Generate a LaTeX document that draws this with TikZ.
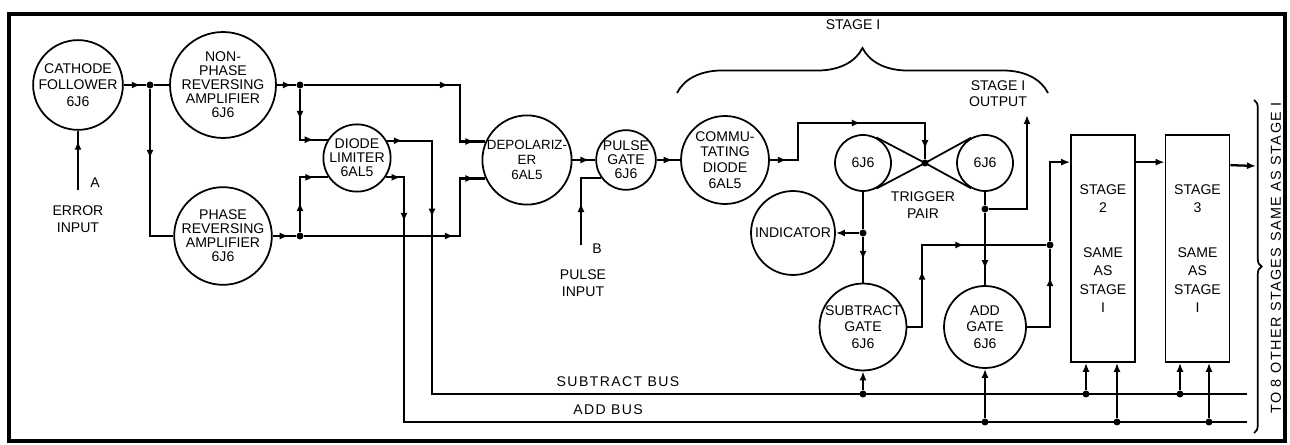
\documentclass[tikz,border=0pt]{standalone}
\usepackage{fontspec}
\setmainfont{Liberation Sans}
\newfontfamily\lettrage[LetterSpace=10]{Liberation Sans}
\usetikzlibrary{arrows.meta, positioning, decorations.pathreplacing, decorations.markings, calc}

\begin{document}
\begin{tikzpicture}[x=0.02cm, y=-0.02cm, font=\fontsize{8}{10}\selectfont,
	tube/.style={circle, draw, line width=1pt, align=center, inner sep=0pt, minimum size=#1, font=\fontsize{8}{8}\selectfont},
	stagebox/.style={draw, line width=1pt, minimum width=1.28cm, minimum height=4.54cm, align=center, inner sep=0pt, font=\fontsize{8}{10.5}\selectfont},
	wire/.style={line width=1.3pt},
	fleche/.style={postaction={decorate, decoration={markings, mark=at position #1 with {\arrow{Latex[length=1.8mm, width=1.4mm]}}}}},
	bout/.style={-{Latex[length=1.8mm, width=1.4mm]}},
	jonction/.style={circle, fill, inner sep=0pt, minimum size=1.4mm},
	accolade/.style={line width=1pt, decorate, decoration={brace, amplitude=#1}}]
				\useasboundingbox (0,0) rectangle (1290,445);
				\draw[line width=1.8pt] (9,14) rectangle (1285,441);
				% étage d'entrée
				\node[tube=1.68cm, font=\fontsize{8}{9.5}\selectfont] (cathode) at (78,85) {CATHODE\\FOLLOWER\\6J6};
				\node[tube=1.8cm] (nonphase) at (223,85) {NON-\\PHASE\\REVERSING\\AMPLIFIER\\6J6};
				\node[tube=1.72cm] (phase) at (223,236) {PHASE\\REVERSING\\AMPLIFIER\\6J6};
				\node[tube=1.2cm] (limiter) at (357,158) {DIODE\\LIMITER\\6AL5};
				\node[tube=1.68cm, font=\fontsize{7.6}{8.5}\selectfont] (depol) at (527,160) {DEPOLARIZ-\\ER\\6AL5};
				\node[tube=1.16cm] (pulsegate) at (626,160) {PULSE\\GATE\\6J6};
				\node[tube=1.76cm, font=\fontsize{8}{9}\selectfont] (commut) at (725,160) {COMMU-\\TATING\\DIODE\\6AL5};
				% étage 1
				\node[tube=1.12cm] (trigL) at (863,163) {6J6};
				\node[tube=1.12cm] (trigR) at (985,163) {6J6};
				\node[tube=1.68cm] (indicator) at (793,233) {INDICATOR};
				\node[tube=1.68cm, font=\fontsize{8}{9.5}\selectfont] (subgate) at (863,327) {SUBTRACT\\GATE\\6J6};
				\node[tube=1.64cm, font=\fontsize{8}{9.5}\selectfont] (addgate) at (985,327) {ADD\\GATE\\6J6};
				\node[stagebox] (stage2) at (1103,248.5) {STAGE\\2\\[15pt]SAME\\AS\\STAGE\\I};
				\node[stagebox] (stage3) at (1197.5,248.5) {STAGE\\3\\[15pt]SAME\\AS\\STAGE\\I};
				% jonctions
				\node[jonction] (jA) at (150,85) {};
				\node[jonction] (jB) at (300,85) {};
				\node[jonction] (jC) at (300,236) {};
				\node[jonction] (jT) at (925,163) {};
				\node[jonction] (jI) at (863,233) {};
				\node[jonction] (jO) at (985,209) {};
				\node[jonction] (jS) at (1050,245) {};
				\node[jonction] (s1) at (863,394) {};
				\node[jonction] (s2) at (1086,394) {};
				\node[jonction] (s3) at (1180,394) {};
				\node[jonction] (a1) at (985,422) {};
				\node[jonction] (a2) at (1117,422) {};
				\node[jonction] (a3) at (1209,422) {};
				\coordinate (subL) at (432,394);
				\coordinate (subR) at (1247,394);
				\coordinate (addL) at (404,422);
				\coordinate (addR) at (1247,422);
				\coordinate (entreeA) at (78,190);
				\coordinate (entreeB) at (581,245);
				\coordinate (sortie1) at (1027,115);
				\coordinate (sortie3) at (1256,166);
				% liaisons
				\draw[wire, fleche=-0.2cm] (entreeA) -- (cathode);
				\draw[wire, fleche=0.34cm] (cathode) -- (jA);
				\draw[wire, fleche=0.44cm] (jA) -- (nonphase);
				\draw[wire, fleche=1.4cm] (jA) |- (phase);
				\draw[wire, fleche=0.3cm] (nonphase) -- (jB);
				\draw[wire, fleche=2.9cm, fleche=-0.22cm] (jB) -- ++(160,0) |- (depol.156);
				\draw[wire, fleche=0.62cm, fleche=-0.28cm] (jB) |- (limiter.148);
				\draw[wire, fleche=0.32cm] (phase) -- (jC);
				\draw[wire, fleche=3cm, fleche=-0.22cm] (jC) -- ++(160,0) |- (depol.204);
				\draw[wire, fleche=0.6cm, fleche=-0.28cm] (jC) |- (limiter.214);
				\draw[wire, fleche=0.32cm, fleche=2.44cm] (limiter.30) -| (subL) -- (subR);
				\draw[wire, fleche=0.3cm, fleche=1.26cm] (limiter.326) -| (addL) -- (addR);
				\draw[wire, fleche=0.34cm] (depol) -- (pulsegate);
				\draw[wire, fleche=0.84cm] (entreeB) |- (pulsegate.216);
				\draw[wire, fleche=0.32cm] (pulsegate) -- (commut);
				\draw[wire, fleche=0.34cm, fleche=2.56cm, fleche=-0.2cm] (commut) -- ++(73,0) -- ++(0,-37) -| (jT);
				% bascule
				\draw[line width=1pt] (tangent cs:node=trigL, point={(jT.center)}, solution=1) -- (jT.center)
					-- (tangent cs:node=trigL, point={(jT.center)}, solution=2);
				\draw[line width=1pt] (tangent cs:node=trigR, point={(jT.center)}, solution=1) -- (jT.center)
					-- (tangent cs:node=trigR, point={(jT.center)}, solution=2);
				\draw[wire] (trigL) -- (jI);
				\draw[wire, fleche=0.46cm] (jI) -- (subgate);
				\draw[wire, bout] (jI) -- (indicator);
				\draw[wire] (trigR) -- (jO);
				\draw[wire, fleche=-0.32cm] (jO) -- (addgate);
				\draw[wire, bout] (jO) -| (sortie1);
				\draw[wire, bout] (s1) -- (subgate);
				\draw[wire, bout] (a1) -- (addgate);
				\draw[wire, fleche=1.42cm, fleche=2.78cm] (subgate) -- ++(59,0) |- (jS);
				\draw[wire, fleche=1.46cm] (addgate) -| (jS);
				\draw[wire, bout] (jS) |- ($(stage2.north west)+(0,28)$);
				\draw[wire, bout] ($(stage2.north east)+(0,28)$) -- ($(stage3.north west)+(0,28)$);
				\draw[wire, bout] ($(stage3.north east)+(0,31)$) -- (sortie3);
				\draw[wire, bout] (s2) -- (s2 |- stage2.south);
				\draw[wire, bout] (a2) -- (a2 |- stage2.south);
				\draw[wire, bout] (s3) -- (s3 |- stage3.south);
				\draw[wire, bout] (a3) -- (a3 |- stage3.south);
				% accolades
				\draw[accolade=0.9cm] (677,93) -- (1048,93);
				\draw[accolade=0.15cm] (1254,100) -- (1254,433);
				% textes
				\node (lettreA) at (95,183) {A};
				\node[align=center] (erreur) at (78,219) {ERROR\\INPUT};
				\node (lettreB) at (597,249) {B};
				\node[align=center] (impulsion) at (583,283) {PULSE\\INPUT};
				\node[align=center] (bascule) at (923,205) {TRIGGER\\PAIR};
				\node[align=center, font=\fontsize{8}{9}\selectfont] (sortie) at (998,94) {STAGE I\\OUTPUT};
				\node (etage1) at (853,25) {STAGE I};
				\node[font=\lettrage\fontsize{8}{10}\selectfont] (busS) at (618,382) {SUBTRACT BUS};
				\node[font=\lettrage\fontsize{8}{10}\selectfont] (busA) at (608,410) {ADD BUS};
				\node[rotate=90, font=\lettrage\fontsize{8.2}{10}\selectfont] (renvoi) at (1276,258) {TO 8 OTHER STAGES SAME AS STAGE I};
			\end{tikzpicture}
\end{document}
